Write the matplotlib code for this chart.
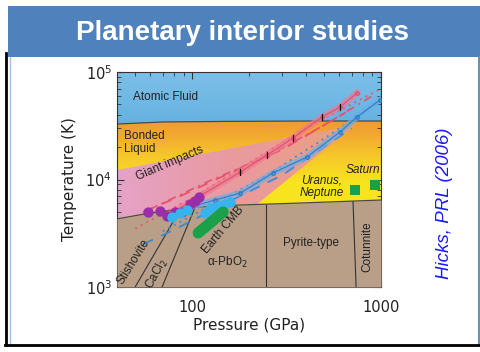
import numpy as np
import matplotlib
matplotlib.use("Agg")
import matplotlib.pyplot as plt
from matplotlib.patches import Rectangle, Polygon
from matplotlib.colors import LinearSegmentedColormap
from matplotlib.ticker import FixedLocator, FixedFormatter

# phase boundaries (pressure in GPa, temperature in K)
P_melt = [40, 60, 106, 180, 373, 1000]
T_melt = [4300, 4880, 5540, 5790, 6040, 6440]

P_atomic = [40, 70, 150, 400, 1000]
T_atomic = [32800, 34300, 34700, 35000, 35000]

P_impact = [40, 728, 221]
T_impact = [12250, 32100, 5900]

# solid phase transitions
P_stish = [49.9, 84.4]
T_stish = [1000, 4880]
P_cacl2 = [69.3, 103.7]
T_cacl2 = [1000, 5540]
P_pyrite = [246.5, 246.5]
T_pyrite = [1000, 5850]
P_cotun = [738, 711]
T_cotun = [1000, 6230]

# Hugoniot measurements
P_red = [83, 110, 180, 249, 342, 487, 607, 746]
T_red = [5200, 7030, 11750, 16900, 24300, 38100, 47200, 63800]
P_blue = [98, 132, 180, 268, 406, 607, 746, 988]
T_blue = [5540, 6440, 7480, 11500, 16200, 27700, 38100, 55000]

# model curves
P_red_dot = [50, 104, 180, 400, 1000]
T_red_dot = [3500, 7000, 12700, 30000, 70000]
P_red_dash = [55, 85, 150, 300, 650]
T_red_dash = [5000, 6900, 11000, 19000, 42000]
P_red_dashdot = [60, 120, 250, 500, 900]
T_red_dashdot = [5300, 9500, 16500, 32000, 60000]
P_blue_dash = [55, 80, 150, 300, 700]
T_blue_dash = [2500, 3400, 6000, 11000, 30000]
P_blue_dot = [70, 120, 250, 500, 1000]
T_blue_dot = [3300, 5500, 11000, 24000, 55000]

P_purple = [58.5, 67.7, 73.8, 81.3, 88.5, 97.6, 103.7, 108.9]
T_purple = [4990, 5090, 4570, 4990, 4990, 5920, 6310, 6870]
P_cyan = [78.3, 86.4, 94.2, 117, 124.5, 137, 150, 159]
T_cyan = [4480, 4880, 5200, 4880, 5430, 5670, 5920, 6180]

P_cmb = [107.6, 146]
T_cmb = [3180, 4990]
P_planets = [728, 929]
T_planets = [7980, 8900]

x_ticks = [100, 1000]
x_labels = ["100", "1000"]

fig = plt.figure(figsize=(4.81, 3.52), dpi=100)
fig.patch.set_facecolor("white")

# slide frame and header
fig.patches.append(Rectangle((8/481, 1-57/352), 473/481, 51/352, transform=fig.transFigure,
                             facecolor="#4f81bd", edgecolor="none"))
fig.lines.append(plt.Line2D([6/481, 6/481], [1-345/352, 1-53/352], transform=fig.transFigure,
                            color="black", lw=2))
fig.lines.append(plt.Line2D([9.5/481, 9.5/481], [1-343/352, 1-57/352], transform=fig.transFigure,
                            color="#9dc3e6", lw=1))
fig.lines.append(plt.Line2D([479/481, 479/481], [1-344/352, 1-57/352], transform=fig.transFigure,
                            color="#6f8fb0", lw=1.5))
fig.lines.append(plt.Line2D([5/481, 1], [1-344.5/352, 1-344.5/352], transform=fig.transFigure,
                            color="black", lw=2))
fig.text(243/481, 1-33/352, "Planetary interior studies", color="white", fontsize=20,
         fontweight="bold", family="Liberation Sans", ha="center", va="center")

ax = fig.add_axes([117/481, 1-287/352, 264/481, 215/352])
ax.set_xscale("log")
ax.set_yscale("log")
ax.set_xlim(40, 1000)
ax.set_ylim(1e3, 1e5)

# bonded liquid: yellow below, orange near the atomic fluid boundary
grad = np.linspace(0, 1, 256).reshape(-1, 1)
cmap = LinearSegmentedColormap.from_list(
    "liq", [(0, "#f8e41e"), (0.62, "#f8e41e"), (0.78, "#f5c82a"), (0.9, "#f2aa30"), (1, "#ee9a32")])
ax.imshow(grad, extent=[0, 1, 0, 0.78], transform=ax.transAxes, cmap=cmap,
          aspect="auto", origin="lower", zorder=0)

# atomic fluid
cmap_af = LinearSegmentedColormap.from_list("af", ["#62aee0", "#7cc0e8"])
af_img = ax.imshow(grad, extent=[0, 1, 0.7, 1], transform=ax.transAxes, cmap=cmap_af,
                   aspect="auto", origin="lower", zorder=0.5)
af_clip = Polygon(list(zip(P_atomic + [1000, 40], T_atomic + [1e5, 1e5])), closed=True,
                  transform=ax.transData, facecolor="none", edgecolor="none")
ax.add_patch(af_clip)
af_img.set_clip_path(af_clip)
ax.plot(P_atomic, T_atomic, color="#4a4a4a", lw=0.9, zorder=2)

# giant impacts wedge, pink at low pressure shading to salmon
Pw = list(P_impact) + P_melt[2::-1]
Tw = list(T_impact) + [5600, 4880, 4300]
wedge = Polygon(list(zip(Pw, Tw)), closed=True, transform=ax.transData,
                facecolor="none", edgecolor="none")
ax.add_patch(wedge)
hgrad = np.linspace(0, 1, 256).reshape(1, -1)
cmap_w = LinearSegmentedColormap.from_list("wedge", ["#e6a2c8", "#e99a9e", "#eda07e"])
w_img = ax.imshow(hgrad, extent=[0, 0.9, 0, 1], transform=ax.transAxes, cmap=cmap_w,
                  aspect="auto", origin="lower", zorder=1.5)
w_img.set_clip_path(wedge)

ax.fill_between(P_melt, 1e3, T_melt, color="#b99f88", zorder=3, lw=0)
ax.plot(P_melt, T_melt, color="#4a4a4a", lw=0.9, zorder=3.5)
for px, ty in [(P_stish, T_stish), (P_cacl2, T_cacl2), (P_pyrite, T_pyrite), (P_cotun, T_cotun)]:
    ax.plot(px, ty, color="#333333", lw=0.8, zorder=3.5)

# model curves
ax.plot(P_red_dot, T_red_dot, color="#e8506e", lw=1.3, ls=(0, (1, 2.5)), zorder=4)
ax.plot(P_red_dash, T_red_dash, color="#e8506e", lw=1.3, ls=(0, (6, 5)), zorder=4)
ax.plot(P_red_dashdot, T_red_dashdot, color="#e8506e", lw=1.2, ls=(0, (5, 3, 1, 3)), zorder=4)
ax.plot(P_blue_dash, T_blue_dash, color="#3a8ad6", lw=1.3, ls=(0, (6, 5)), zorder=4)
ax.plot(P_blue_dot, T_blue_dot, color="#3a8ad6", lw=1.3, ls=(0, (1, 2.5)), zorder=4)

# Hugoniot data
ax.plot(P_red, T_red, color="#f07890", lw=4.5, alpha=0.7, zorder=5)
ax.plot(P_red, T_red, color="#e0506c", lw=0.8, marker="o", ms=2.5, mfc="none", zorder=5.2)
ax.plot(P_blue, T_blue, color="#6aaee6", lw=4.5, alpha=0.7, zorder=5)
ax.plot(P_blue, T_blue, color="#2d7cc8", lw=0.8, marker="o", ms=2.5, mfc="none", zorder=5.2)
for p, t in zip(P_red[1:-1], T_red[1:-1]):
    ax.plot([p, p], [t * 0.94, t * 1.06], color="black", lw=0.8, zorder=5.5)

ax.scatter(P_purple, T_purple, s=55, color="#9a2ea8", zorder=6, lw=0)
ax.scatter(P_cyan, T_cyan, s=55, color="#38b4ec", zorder=6, lw=0)
ax.plot(P_cmb, T_cmb, color="#1aa048", lw=8, solid_capstyle="round", zorder=6)
ax.scatter(P_planets, T_planets, s=60, marker="s", color="#1aa048", zorder=6, lw=0)

# region labels
lab = dict(family="Liberation Sans", color="#222222", fontsize=8.5, zorder=7)
ax.text(72, 58500, "Atomic Fluid", ha="center", va="center", **lab)
ax.text(43.7, 21900, "Bonded\nLiquid", ha="left", va="center", linespacing=1.1, **lab)
ax.text(76.5, 14200, "Giant impacts", ha="center", va="center", rotation=23, **lab)
ax.text(487, 8610, "Uranus,\nNeptune", ha="center", va="center", style="italic",
        linespacing=1.1, **lab)
ax.text(804, 12250, "Saturn", ha="center", va="center", style="italic", **lab)
ax.text(48.7, 1710, "Stishovite", ha="center", va="center", rotation=58, **lab)
ax.text(65.3, 1320, "CaCl$_2$", ha="center", va="center", rotation=62, **lab)
ax.text(146, 3390, "Earth CMB", ha="center", va="center", rotation=50, **lab)
ax.text(153, 1710, "\u03b1-PbO$_2$", ha="center", va="center", **lab)
ax.text(427, 2560, "Pyrite-type", ha="center", va="center", **lab)
ax.text(843, 2360, "Cotunnite", ha="center", va="center", rotation=90, **lab)

ax.xaxis.set_major_locator(FixedLocator(x_ticks))
ax.xaxis.set_major_formatter(FixedFormatter(x_labels))
ax.tick_params(which="both", direction="in", top=True, right=True, labelsize=10.5,
               color="#333333", labelcolor="#222222")
ax.tick_params(which="major", length=5)
ax.tick_params(which="minor", length=3)
ax.tick_params(axis="x", which="major", pad=9)
for s in ax.spines.values():
    s.set_color("#333333")
ax.set_xlabel("Pressure (GPa)", fontsize=11, labelpad=2, color="#222222")
ax.set_ylabel("Temperature (K)", fontsize=11, labelpad=6, color="#222222")

fig.text(445/481, 1-203/352, "Hicks, PRL (2006)", color="#1a1aff", style="italic",
         fontsize=13.5, family="Liberation Sans", rotation=90, ha="center", va="center")

fig.savefig("out.png", dpi=100)
